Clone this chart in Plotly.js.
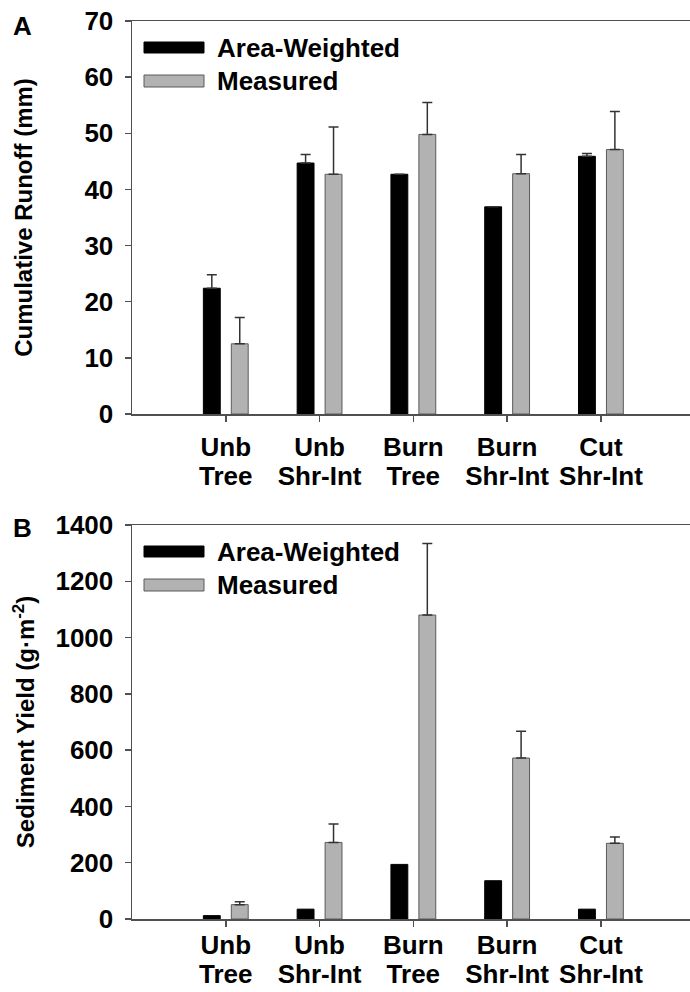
<!DOCTYPE html>
<html>
<head>
<meta charset="utf-8">
<script src="https://cdn.plot.ly/plotly-3.0.1.min.js"></script>
<style>html,body{margin:0;padding:0;background:#fff;}#chart{width:690px;height:992px;}</style>
</head>
<body>
<div id="chart"></div>
<script>
// ---- Data ----
const categoryLine1 = ['Unb', 'Unb', 'Burn', 'Burn', 'Cut'];
const categoryLine2 = ['Tree', 'Shr-Int', 'Tree', 'Shr-Int', 'Shr-Int'];
const categories = categoryLine1.map((t, i) => t + ' ' + categoryLine2[i]);
const seriesNames = ['Area-Weighted', 'Measured'];

const runoffAreaWeighted = [22.4, 44.7, 42.7, 36.9, 45.9];
const runoffAreaWeightedErr = [2.4, 1.5, 0, 0, 0.5];
const runoffMeasured = [12.5, 42.7, 49.8, 42.8, 47.1];
const runoffMeasuredErr = [4.7, 8.4, 5.7, 3.4, 6.8];

const sedimentAreaWeighted = [12, 35, 194, 136, 35];
const sedimentMeasured = [51, 272, 1080, 572, 269];
const sedimentMeasuredErr = [10, 66, 254, 95, 22];

const runoffTicks = [0, 10, 20, 30, 40, 50, 60, 70];
const sedimentTicks = [0, 200, 400, 600, 800, 1000, 1200, 1400];

// ---- Styles ----
const W = 690, H = 992;
const FONT = 'Liberation Sans, Arial, Helvetica, sans-serif';
const AXC = '#505050';
const GRAY = '#b2b2b2';
const px = v => v / W;
const py = v => 1 - v / H;
const XRANGE = [-1, 4.95];

const blackMarker = {color: '#000000', line: {color: '#000000', width: 1}};
const grayMarker = {color: GRAY, line: {color: '#5a5a5a', width: 1}};
const errStyle = {type: 'data', symmetric: false, arrayminus: [0,0,0,0,0], color: '#333333', thickness: 1.5, width: 5};

const traces = [
  {type: 'bar', x: categories, y: runoffAreaWeighted, name: seriesNames[0], marker: blackMarker,
   error_y: Object.assign({}, errStyle, {array: runoffAreaWeightedErr}), xaxis: 'x', yaxis: 'y', showlegend: false},
  {type: 'bar', x: categories, y: runoffMeasured, name: seriesNames[1], marker: grayMarker,
   error_y: Object.assign({}, errStyle, {array: runoffMeasuredErr}), xaxis: 'x', yaxis: 'y', showlegend: false},
  {type: 'bar', x: categories, y: sedimentAreaWeighted, name: seriesNames[0], marker: blackMarker,
   xaxis: 'x2', yaxis: 'y2', showlegend: false},
  {type: 'bar', x: categories, y: sedimentMeasured, name: seriesNames[1], marker: grayMarker,
   error_y: Object.assign({}, errStyle, {array: sedimentMeasuredErr}), xaxis: 'x2', yaxis: 'y2', showlegend: false},
  // empty traces so the second-line label axes get drawn
  {type: 'scatter', mode: 'markers', x: [], y: [], xaxis: 'x3', yaxis: 'y', showlegend: false, hoverinfo: 'skip'},
  {type: 'scatter', mode: 'markers', x: [], y: [], xaxis: 'x4', yaxis: 'y2', showlegend: false, hoverinfo: 'skip'}
];

const tickFont = {family: FONT, size: 26, color: '#000', weight: 700};
const titleFont = {family: FONT, size: 24, color: '#000', weight: 700};

function xAxis(anchor, standoff) {
  return {
    domain: [px(132), 1], anchor: anchor, type: 'category',
    range: XRANGE, fixedrange: true,
    showline: true, mirror: true, linecolor: AXC, linewidth: 1.5,
    ticks: 'outside', ticklen: 6, tickwidth: 1.5, tickcolor: AXC,
    tickmode: 'array', tickvals: categories, ticktext: categoryLine1,
    tickfont: tickFont, ticklabelstandoff: standoff,
    showgrid: false, zeroline: false
  };
}
// second line of category labels on an overlaying axis (tighter line spacing)
function xAxisLine2(anchor, overlay, standoff) {
  return {
    domain: [px(132), 1], anchor: anchor, overlaying: overlay, side: 'bottom', type: 'linear',
    range: XRANGE, fixedrange: true,
    showline: false, ticks: 'outside', ticklen: 6, tickcolor: 'rgba(0,0,0,0)',
    tickmode: 'array', tickvals: categories.map((c, i) => i), ticktext: categoryLine2,
    tickfont: tickFont, ticklabelstandoff: standoff,
    showgrid: false, zeroline: false
  };
}
function yAxis(anchor, dom, range, ticks, title, standoff) {
  return {
    domain: dom, anchor: anchor, range: range, fixedrange: true,
    tickmode: 'array', tickvals: ticks, ticktext: ticks.map(String),
    showline: true, linecolor: AXC, linewidth: 1.5,
    ticks: 'outside', ticklen: 6, tickwidth: 1.5, tickcolor: AXC,
    tickfont: tickFont, ticklabelstandoff: 6,
    showgrid: false, zeroline: false,
    title: {text: title, font: titleFont, standoff: standoff}
  };
}

// Legend drawn with shapes + annotations (per panel)
function legendItems(topPx) {
  const shapes = [
    {type: 'rect', xref: 'paper', yref: 'paper', x0: px(144), x1: px(204), y0: py(topPx + 21), y1: py(topPx + 32),
     fillcolor: '#000', line: {color: '#000', width: 1}},
    {type: 'rect', xref: 'paper', yref: 'paper', x0: px(144), x1: px(204), y0: py(topPx + 54), y1: py(topPx + 66),
     fillcolor: GRAY, line: {color: '#5a5a5a', width: 1}}
  ];
  const ann = [
    {xref: 'paper', yref: 'paper', x: px(215), y: py(topPx + 27), xanchor: 'left', yanchor: 'middle',
     text: seriesNames[0], showarrow: false, font: {family: FONT, size: 26, color: '#000', weight: 700}},
    {xref: 'paper', yref: 'paper', x: px(215), y: py(topPx + 60), xanchor: 'left', yanchor: 'middle',
     text: seriesNames[1], showarrow: false, font: {family: FONT, size: 26, color: '#000', weight: 700}}
  ];
  return {shapes, ann};
}
const legA = legendItems(21);
const legB = legendItems(525);

const layout = {
  width: W, height: H,
  margin: {l: 0, r: 0, t: 0, b: 0},
  paper_bgcolor: '#fff', plot_bgcolor: '#fff',
  barmode: 'group', bargap: 0.404, bargroupgap: 0.396,
  showlegend: false,
  xaxis: xAxis('y', 3),
  xaxis3: xAxisLine2('y', 'x', 33),
  yaxis: yAxis('x', [py(414), py(21)], [0, 70], runoffTicks, 'Cumulative Runoff (mm)', 45),
  xaxis2: xAxis('y2', -4),
  xaxis4: xAxisLine2('y2', 'x2', 26),
  yaxis2: yAxis('x2', [py(919), py(525)], [0, 1400], sedimentTicks, 'Sediment Yield (g·m<sup>-2</sup>)', 14),
  shapes: legA.shapes.concat(legB.shapes),
  annotations: legA.ann.concat(legB.ann).concat([
    {xref: 'paper', yref: 'paper', x: px(11), y: py(26), xanchor: 'left', yanchor: 'middle', text: 'A',
     showarrow: false, font: {family: FONT, size: 26, color: '#000', weight: 700}},
    {xref: 'paper', yref: 'paper', x: px(11), y: py(528), xanchor: 'left', yanchor: 'middle', text: 'B',
     showarrow: false, font: {family: FONT, size: 26, color: '#000', weight: 700}}
  ])
};

Plotly.newPlot('chart', traces, layout, {staticPlot: true, displayModeBar: false});
</script>
</body>
</html>
